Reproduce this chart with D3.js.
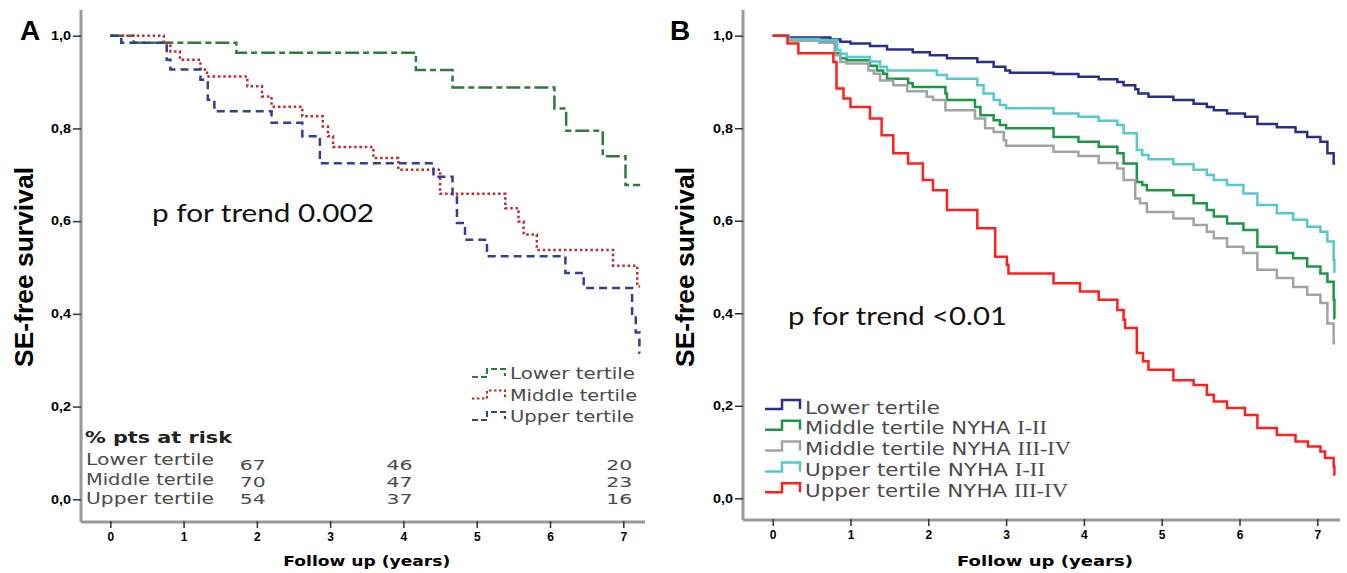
<!DOCTYPE html>
<html>
<head>
<meta charset="utf-8">
<script src="https://d3js.org/d3.v7.min.js"></script>
<style>
  body { margin: 0; background: #fff; }
</style>
</head>
<body>
<div id="svg"></div>
<script>
// ---- data ----
var yTicks = [0, 0.2, 0.4, 0.6, 0.8, 1.0];
var xTicks = [0, 1, 2, 3, 4, 5, 6, 7];

// panel A: [years, survival]
var lowerA = [[0,1],[0.32,0.985],[1.72,0.963],[4.17,0.926],[4.67,0.888],[6.06,0.843],[6.22,0.795],[6.72,0.740],[7.03,0.678],[7.23,0.678]];
var middleA = [[0,1],[0.73,0.985],[0.82,0.966],[0.95,0.948],[1.23,0.927],[1.32,0.912],[1.87,0.891],[2.07,0.869],[2.2,0.847],[2.62,0.826],[2.9,0.804],[2.97,0.783],[3.04,0.760],[3.59,0.736],[3.93,0.711],[4.5,0.659],[5.39,0.628],[5.57,0.599],[5.64,0.571],[5.82,0.538],[6.86,0.504],[7.19,0.459],[7.23,0.459]];
var upperA = [[0,1],[0.15,0.985],[0.77,0.948],[0.82,0.927],[1.23,0.905],[1.33,0.862],[1.42,0.837],[2.2,0.812],[2.62,0.783],[2.86,0.725],[4.41,0.696],[4.67,0.653],[4.73,0.596],[4.84,0.560],[5.14,0.524],[6.21,0.488],[6.46,0.456],[7.12,0.40],[7.17,0.36],[7.22,0.316],[7.23,0.316]];
var namesA = ["Lower tertile", "Middle tertile", "Upper tertile"];

// % pts at risk
var riskTimes = [2, 4, 7];
var riskLower = [67, 46, 20];
var riskMiddle = [70, 47, 23];
var riskUpper = [54, 37, 16];

// panel B
var lowerB = [[0,1],[0.2,0.996],[0.74,0.992],[0.87,0.987],[1.0,0.983],[1.25,0.978],[1.47,0.970],[1.8,0.964],[2.02,0.958],[2.24,0.951],[2.63,0.943],[2.84,0.933],[2.99,0.925],[3.05,0.920],[3.61,0.917],[3.93,0.911],[4.19,0.906],[4.43,0.900],[4.51,0.893],[4.66,0.884],[4.70,0.875],[4.83,0.868],[5.15,0.861],[5.41,0.853],[5.58,0.846],[5.67,0.839],[5.84,0.832],[6.07,0.825],[6.23,0.809],[6.48,0.802],[6.72,0.792],[6.87,0.781],[7.04,0.771],[7.13,0.746],[7.21,0.724],[7.23,0.724]];
var middle12B = [[0,1],[0.2,0.99],[0.6,0.987],[0.8,0.962],[0.87,0.951],[0.95,0.947],[1.25,0.935],[1.34,0.925],[1.42,0.918],[1.47,0.907],[1.74,0.897],[1.8,0.889],[2.22,0.875],[2.24,0.861],[2.6,0.846],[2.67,0.828],[2.84,0.817],[2.92,0.807],[3.0,0.800],[3.61,0.781],[3.93,0.771],[4.19,0.760],[4.43,0.746],[4.51,0.724],[4.68,0.684],[4.75,0.677],[4.81,0.666],[5.15,0.655],[5.41,0.638],[5.58,0.623],[5.67,0.609],[5.84,0.594],[6.05,0.580],[6.23,0.544],[6.48,0.530],[6.69,0.519],[6.87,0.501],[7.04,0.486],[7.13,0.468],[7.21,0.429],[7.22,0.389],[7.23,0.389]];
var middle34B = [[0,1],[0.2,0.99],[0.6,0.985],[0.8,0.958],[0.87,0.943],[0.95,0.940],[1.23,0.925],[1.3,0.918],[1.38,0.903],[1.55,0.893],[1.73,0.880],[1.98,0.868],[2.06,0.861],[2.22,0.839],[2.6,0.821],[2.73,0.800],[2.84,0.792],[2.97,0.774],[3.0,0.762],[3.61,0.749],[3.93,0.740],[4.19,0.725],[4.43,0.713],[4.51,0.688],[4.66,0.648],[4.72,0.638],[4.81,0.619],[5.15,0.605],[5.41,0.591],[5.58,0.576],[5.67,0.562],[5.84,0.544],[6.05,0.530],[6.23,0.494],[6.48,0.476],[6.69,0.457],[6.87,0.440],[7.04,0.422],[7.13,0.378],[7.21,0.335],[7.23,0.335]];
var upper12B = [[0,1],[0.2,0.993],[0.6,0.99],[0.83,0.969],[0.87,0.961],[0.95,0.954],[1.25,0.944],[1.38,0.933],[1.47,0.925],[2.11,0.915],[2.24,0.907],[2.63,0.893],[2.71,0.875],[2.84,0.861],[2.92,0.850],[3.0,0.843],[3.61,0.832],[3.93,0.825],[4.19,0.816],[4.43,0.807],[4.51,0.789],[4.68,0.753],[4.75,0.742],[4.83,0.733],[5.15,0.722],[5.41,0.710],[5.58,0.699],[5.67,0.688],[5.84,0.677],[6.05,0.659],[6.23,0.634],[6.48,0.616],[6.69,0.602],[6.87,0.587],[7.04,0.576],[7.13,0.555],[7.21,0.515],[7.22,0.490],[7.23,0.490]];
var upper34B = [[0,1],[0.19,0.983],[0.33,0.962],[0.78,0.943],[0.82,0.886],[0.91,0.864],[1.0,0.846],[1.25,0.821],[1.4,0.785],[1.55,0.746],[1.74,0.724],[1.93,0.688],[2.06,0.666],[2.24,0.623],[2.63,0.584],[2.86,0.522],[3.01,0.505],[3.03,0.486],[3.61,0.465],[3.95,0.447],[4.19,0.429],[4.43,0.407],[4.51,0.386],[4.53,0.368],[4.68,0.314],[4.76,0.296],[4.83,0.278],[5.15,0.255],[5.41,0.245],[5.58,0.224],[5.67,0.209],[5.84,0.195],[6.07,0.180],[6.23,0.152],[6.48,0.137],[6.72,0.123],[6.88,0.112],[7.04,0.101],[7.1,0.087],[7.21,0.069],[7.22,0.051],[7.23,0.051]];
var namesB = [["Lower tertile", ""], ["Middle tertile NYHA ", "I-II"], ["Middle tertile NYHA ", "III-IV"], ["Upper tertile NYHA ", "I-II"], ["Upper tertile NYHA ", "III-IV"]];

var sans = "'Liberation Sans', Arial, sans-serif";
var wide = "'DejaVu Sans', Verdana, sans-serif";

var svg = d3.select("#svg")
  .append("svg")
    .attr("width", 1347)
    .attr("height", 573);

function label(g, x, y, str, o) {
  var t = g.append("text")
    .attr("x", x).attr("y", y)
    .attr("font-family", o.font || sans)
    .attr("font-size", o.size)
    .attr("font-weight", o.weight || "normal")
    .attr("fill", o.fill || "#000")
    .attr("text-anchor", o.anchor || "start")
    .text(str);
  if (o.len) t.attr("textLength", o.len).attr("lengthAdjust", "spacingAndGlyphs");
  return t;
}

function axes(x, y, ax, ay, xEnd, yTop) {
  // grey axis lines
  svg.append("line")
    .attr("x1", ax).attr("x2", ax).attr("y1", yTop).attr("y2", ay)
    .style("stroke", "#999").style("stroke-width", 3);
  svg.append("line")
    .attr("x1", ax).attr("x2", xEnd).attr("y1", ay).attr("y2", ay)
    .style("stroke", "#999").style("stroke-width", 3);

  // Add Y axis
  var gy = svg.append("g")
    .attr("transform", "translate(" + ax + ",0)")
    .call(d3.axisLeft(y).tickValues(yTicks).tickSize(8).tickPadding(2)
      .tickFormat(function (d) { return d3.format(".1f")(d).replace(".", ","); }));
  gy.select(".domain").remove();
  gy.selectAll("line").style("stroke", "#333").style("stroke-width", 1.5);
  gy.selectAll("text")
    .attr("font-family", sans).attr("font-size", 12).attr("font-weight", "bold")
    .attr("textLength", 20).attr("lengthAdjust", "spacingAndGlyphs");

  // Add X axis
  var gx = svg.append("g")
    .attr("transform", "translate(0," + ay + ")")
    .call(d3.axisBottom(x).tickValues(xTicks).tickSize(6).tickPadding(4).tickFormat(d3.format("d")));
  gx.select(".domain").remove();
  gx.selectAll("line").style("stroke", "#333").style("stroke-width", 1.5).attr("y1", -1);
  gx.selectAll("text")
    .attr("font-family", sans).attr("font-size", 12).attr("font-weight", "bold");
}

var line = function (x, y) {
  return d3.line()
    .x(function (d) { return x(d[0]); })
    .y(function (d) { return y(d[1]); })
    .curve(d3.curveStepAfter);
};

// ================= panel A =================
var xA = d3.scaleLinear().domain([0, 7]).range([110.3, 623.3]);
var yA = d3.scaleLinear().domain([0, 1]).range([499.3, 35.7]);
axes(xA, yA, 81, 522, 645, 10);

var seriesA = [
  {data: lowerA, color: "#2e7a3f", dash: "14,4,6,4"},
  {data: middleA, color: "#c3282f", dash: "2.5,2.8"},
  {data: upperA, color: "#333f94", dash: "8,5"}
];
seriesA.forEach(function (s) {
  svg.append("path")
    .datum(s.data)
    .attr("d", line(xA, yA))
    .style("fill", "none")
    .style("stroke", s.color)
    .style("stroke-width", 2.5)
    .style("stroke-dasharray", s.dash);
});

label(svg, 20, 40, "A", {size: 28, weight: "bold"});
label(svg, 152, 222, "p for trend 0.002", {font: "Lato, 'Open Sans', sans-serif", size: 25, len: 222, fill: "#111"});

// legend A
seriesA.forEach(function (s, i) {
  var cy = 373 + i * 21.5;
  svg.append("path")
    .attr("d", "M472," + (cy + 4) + "H487V" + (cy - 4) + "H505V" + (cy + 3))
    .style("fill", "none")
    .style("stroke", s.color)
    .style("stroke-width", 2.2)
    .style("stroke-dasharray", i == 1 ? "2.5,2.5" : "6,3");
  label(svg, 510, cy + 6, namesA[i], {font: wide, size: 16, fill: "#4a4a4a", len: [125, 127, 124][i]});
});

// at risk table
label(svg, 85, 443, "% pts at risk", {font: wide, size: 16, weight: "bold", fill: "#222", len: 147});
[riskLower, riskMiddle, riskUpper].forEach(function (row, i) {
  label(svg, 86, 465 + i * 19.5, namesA[i], {font: wide, size: 16, fill: "#4a4a4a", len: 128});
  row.forEach(function (v, j) {
    label(svg, xA(riskTimes[j]) - 4, 470 + i * 17, v, {font: wide, size: 14, fill: "#4a4a4a", anchor: "middle", len: 26});
  });
});

// axis titles A
label(svg, 0, 0, "SE-free survival", {size: 26, weight: "bold", anchor: "middle", len: 200})
  .attr("transform", "translate(33,267) rotate(-90)");
label(svg, xA(3.5), 566, "Follow up (years)", {font: wide, size: 13.5, weight: "bold", anchor: "middle", len: 167});

// ================= panel B =================
var xB = d3.scaleLinear().domain([0, 7]).range([772.7, 1317.3]);
var yB = d3.scaleLinear().domain([0, 1]).range([498.3, 35.7]);
axes(xB, yB, 743, 520, 1340, 10);

var seriesB = [
  {data: lowerB, color: "#2b2f88"},
  {data: middle12B, color: "#1e9646"},
  {data: middle34B, color: "#a3a3a3"},
  {data: upper12B, color: "#56c8d0"},
  {data: upper34B, color: "#ff1f1f"}
];
seriesB.forEach(function (s) {
  svg.append("path")
    .datum(s.data)
    .attr("d", line(xB, yB))
    .style("fill", "none")
    .style("stroke", s.color)
    .style("stroke-width", 2.5);
});

label(svg, 670, 40, "B", {size: 28, weight: "bold"});
label(svg, 788, 325, "p for trend <0.01", {font: "Lato, 'Open Sans', sans-serif", size: 25, len: 219, fill: "#111"});

// legend B
seriesB.forEach(function (s, i) {
  var cy = 407 + i * 20.8;
  svg.append("path")
    .attr("d", "M765," + (cy + 2) + "H782V" + (cy - 7) + "H800V" + (cy + 2))
    .style("fill", "none")
    .style("stroke", s.color)
    .style("stroke-width", 2.5);
  var t = label(svg, 805, cy + 6.5, namesB[i][0], {font: wide, size: 17.5, fill: "#4a4a4a"});
  if (namesB[i][1]) {
    t.append("tspan")
      .attr("font-family", "'Liberation Serif', 'DejaVu Serif', serif")
      .attr("font-size", 18.5)
      .text(namesB[i][1]);
  }
  t.attr("textLength", [135, 242, 266, 240, 263][i]).attr("lengthAdjust", "spacingAndGlyphs");
});

// axis titles B
label(svg, 0, 0, "SE-free survival", {size: 26, weight: "bold", anchor: "middle", len: 200})
  .attr("transform", "translate(694,267) rotate(-90)");
label(svg, xB(3.5), 566, "Follow up (years)", {font: wide, size: 13.5, weight: "bold", anchor: "middle", len: 176});
</script>
</body>
</html>
